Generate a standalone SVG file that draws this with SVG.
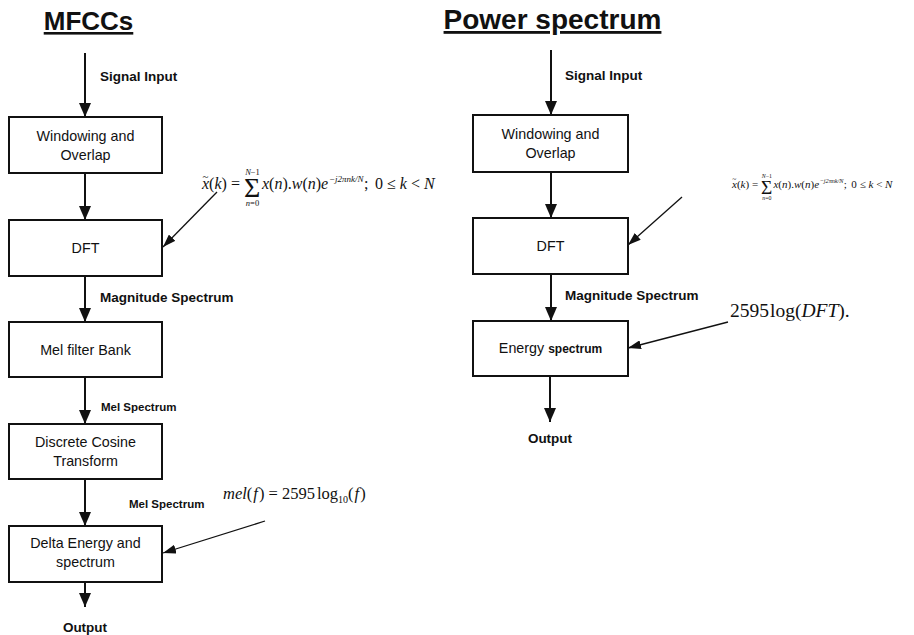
<svg xmlns="http://www.w3.org/2000/svg" xmlns:xlink="http://www.w3.org/1999/xlink" width="914" height="635" viewBox="0 0 914 635">
<style>
.box{fill:#fff;stroke:#111;stroke-width:2}
.bt{font-family:"Liberation Sans",Arial,sans-serif;font-size:14.3px;fill:#111;text-anchor:middle}
.lb{font-family:"Liberation Sans",Arial,sans-serif;font-weight:bold;font-size:13.5px;fill:#111}
.sm{font-size:11.5px}
.ttl{font-family:"Liberation Sans",Arial,sans-serif;font-weight:bold;fill:#111;text-decoration:underline;text-anchor:middle}
.main{stroke:#111;stroke-width:2;fill:none;marker-end:url(#ah)}
.thin{stroke:#111;stroke-width:1.3;fill:none;marker-end:url(#ahs)}
.m{font-family:"Liberation Serif","Times New Roman",serif;fill:#111}
.i{font-style:italic}
</style>
<defs>
<marker id="ah" markerUnits="userSpaceOnUse" viewBox="0 0 14 12" markerWidth="14" markerHeight="12" refX="14" refY="6" orient="auto"><path d="M0,0 L14,6 L0,12 z" fill="#111"/></marker>
<marker id="ahs" markerUnits="userSpaceOnUse" viewBox="0 0 13 9" markerWidth="13" markerHeight="9" refX="13" refY="4.5" orient="auto"><path d="M0,0 L13,4.5 L0,9 z" fill="#111"/></marker>
<g id="fx" class="m">
<text x="202" y="189" font-size="16"><tspan class="i">x</tspan>(<tspan class="i">k</tspan>) =</text>
<text x="202.5" y="180" font-size="11">~</text>
<text x="244" y="197" font-size="28">Σ</text>
<text x="252.5" y="175" font-size="8.5" text-anchor="middle"><tspan class="i">N</tspan>−1</text>
<text x="252.5" y="206" font-size="8.5" text-anchor="middle"><tspan class="i">n</tspan>=0</text>
<text x="262" y="189" font-size="16"><tspan class="i">x</tspan>(<tspan class="i">n</tspan>).<tspan class="i">w</tspan>(<tspan class="i">n</tspan>)<tspan class="i">e</tspan></text>
<text x="329" y="182" font-size="9" class="i">−j2πnk/N</text>
<text x="364" y="189" font-size="16">;</text>
<text x="375" y="189" font-size="16">0 ≤ <tspan class="i">k</tspan> &lt; <tspan class="i">N</tspan></text>
</g>
</defs>
<rect width="914" height="635" fill="#fff"/>

<text class="ttl" x="88.5" y="30" font-size="26">MFCCs</text>
<text class="ttl" x="552.5" y="29" font-size="28">Power spectrum</text>

<g id="connectors">
<line class="main" x1="85" y1="53" x2="85" y2="117"/>
<line class="main" x1="85" y1="173" x2="85" y2="220"/>
<line class="main" x1="85" y1="276" x2="85" y2="322"/>
<line class="main" x1="85" y1="377" x2="85" y2="424"/>
<line class="main" x1="85" y1="479" x2="85" y2="526"/>
<line class="main" x1="85" y1="582" x2="85" y2="607"/>
<line class="main" x1="551" y1="50" x2="551" y2="115"/>
<line class="main" x1="551" y1="172" x2="551" y2="218"/>
<line class="main" x1="551" y1="274" x2="551" y2="321"/>
<line class="main" x1="550" y1="376" x2="550" y2="422"/>
<line class="thin" x1="217" y1="192" x2="163" y2="247"/>
<line class="thin" x1="265" y1="521" x2="163" y2="553"/>
<line class="thin" x1="682" y1="197" x2="628" y2="245"/>
<line class="thin" x1="728" y1="322" x2="628" y2="348"/>
</g>

<g id="labels">
<text class="lb" x="100" y="81">Signal Input</text>
<text class="lb" x="100" y="302">Magnitude Spectrum</text>
<text class="lb sm" x="101" y="411">Mel Spectrum</text>
<text class="lb sm" x="129" y="508">Mel Spectrum</text>
<text class="lb" x="85" y="632" text-anchor="middle" font-size="14">Output</text>
<text class="lb" x="565" y="80">Signal Input</text>
<text class="lb" x="565" y="300">Magnitude Spectrum</text>
<text class="lb" x="550" y="443" text-anchor="middle" font-size="14">Output</text>
</g>

<g id="formulas">
<use xlink:href="#fx" href="#fx"/>
<use xlink:href="#fx" href="#fx" transform="translate(732,188) scale(0.69) translate(-202,-189)"/>
<text class="m" font-size="16.5" x="223" y="499"><tspan class="i">mel</tspan>(<tspan class="i" dx="1">f</tspan><tspan dx="1">) = 2595</tspan><tspan dx="2">log</tspan><tspan font-size="10" dy="4">10</tspan><tspan dy="-4">(</tspan><tspan class="i" dx="1">f</tspan><tspan dx="1">)</tspan></text>
<text class="m" font-size="19.5" x="730" y="317">2595<tspan dx="1">log(</tspan><tspan class="i">DFT</tspan>).</text>
</g>

<g id="n-window-l"><rect class="box" x="9" y="117" width="153" height="56"/><text class="bt" x="85.5" y="141">Windowing and</text><text class="bt" x="85.5" y="160">Overlap</text></g>
<g id="n-dft-l"><rect class="box" x="9" y="220" width="153" height="56"/><text class="bt" x="85.5" y="253">DFT</text></g>
<g id="n-mel-l"><rect class="box" x="9" y="322" width="153" height="55"/><text class="bt" x="85.5" y="355">Mel filter Bank</text></g>
<g id="n-dct-l"><rect class="box" x="9" y="424" width="153" height="55"/><text class="bt" x="85.5" y="447">Discrete Cosine</text><text class="bt" x="85.5" y="466">Transform</text></g>
<g id="n-delta-l"><rect class="box" x="9" y="526" width="153" height="56"/><text class="bt" x="85.5" y="548">Delta Energy and</text><text class="bt" x="85.5" y="567">spectrum</text></g>

<g id="n-window-r"><rect class="box" x="473" y="115" width="155" height="57"/><text class="bt" x="550.5" y="139">Windowing and</text><text class="bt" x="550.5" y="158">Overlap</text></g>
<g id="n-dft-r"><rect class="box" x="473" y="218" width="155" height="56"/><text class="bt" x="550.5" y="251">DFT</text></g>
<g id="n-energy-r"><rect class="box" x="473" y="321" width="155" height="55"/><text class="bt" x="550.5" y="353">Energy <tspan font-weight="bold" font-size="12">spectrum</tspan></text></g>
</svg>
